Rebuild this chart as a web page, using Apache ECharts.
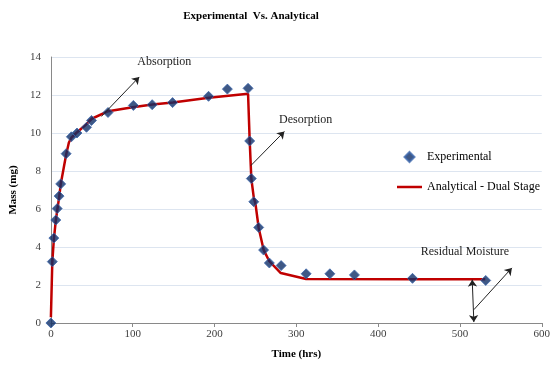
<!DOCTYPE html>
<html lang="en">
<head>
    <meta charset="UTF-8">
    <title>Experimental Vs. Analytical</title>
    <style type="text/css">
        *{ margin: 0; padding: 0; }
        #chart{ width: 553px; height: 365px; }
    </style>
</head>
<body>
<div id="chart"></div>
<script src="https://cdn.jsdelivr.net/npm/echarts@6/dist/echarts.min.js"></script>
<script>
    // experimental points (hrs, mg)
    var expTime = [0, 1.7, 3.6, 6, 7.7, 10, 12, 18.6, 25, 31.9, 43.5, 49.6, 69.8, 100.8, 123.8, 148.7, 192.7, 215.7, 241, 243, 245, 248, 254, 260, 267, 281.4, 312, 341, 371, 442, 531.5];
    var expMass = [0, 3.23, 4.47, 5.42, 6.02, 6.68, 7.32, 8.91, 9.8, 10.0, 10.3, 10.66, 11.08, 11.45, 11.49, 11.6, 11.93, 12.31, 12.35, 9.58, 7.6, 6.38, 5.03, 3.84, 3.16, 3.02, 2.59, 2.59, 2.53, 2.35, 2.24];

    // analytical dual stage curve
    var anaTime = [0, 1.7, 3.6, 6, 8, 10, 12, 18.6, 22, 25, 31, 43, 50, 70, 100, 124, 149, 193, 241, 243, 245, 248, 250, 254, 260, 267, 281, 312, 442, 531];
    var anaMass = [0.3, 3.2, 4.4, 5.4, 6.0, 6.6, 7.3, 8.85, 9.5, 9.75, 10.0, 10.45, 10.75, 11.15, 11.35, 11.5, 11.6, 11.85, 12.07, 9.6, 7.6, 6.6, 6.3, 5.0, 3.85, 3.25, 2.63, 2.32, 2.3, 2.3];

    // annotation arrows [from, to, double headed] in data units
    var arrows = [
        [[61.7, 10.87], [108, 12.95], false],
        [[244.3, 8.28], [285.4, 10.08], false],
        [[517, 0.7], [563.5, 2.9], false],
        [[515, 2.28], [517, 0.05], true]
    ];
    var notes = [
        ['Absorption', 138.7, 13.75],
        ['Desorption', 311.4, 10.7],
        ['Residual Moisture', 506, 3.75]
    ];

    var font = 'Liberation Serif';

    var expData = [];
    for (var i = 0; i < expTime.length; i++) {
        expData.push([expTime[i], expMass[i]]);
    }
    var anaData = [];
    for (var j = 0; j < anaTime.length; j++) {
        anaData.push([anaTime[j], anaMass[j]]);
    }

    var arrowLines = arrows.map(function (a) {
        return [
            { coord: a[0], symbol: a[2] ? 'arrow' : 'none' },
            { coord: a[1], symbol: 'arrow' }
        ];
    });
    var notePoints = notes.map(function (n) {
        return { name: n[0], coord: [n[1], n[2]], label: { formatter: n[0] } };
    });

    var myChart = echarts.init(document.getElementById('chart'));
    var option = {
        animation: false,
        backgroundColor: '#fff',
        title: {
            text: 'Experimental  Vs. Analytical',
            left: 246,
            top: 6,
            textAlign: 'center',
            textStyle: { fontFamily: font, fontSize: 11, fontWeight: 'bold', color: '#000' }
        },
        legend: {
            orient: 'vertical',
            left: 392,
            top: 146,
            itemGap: 18,
            itemWidth: 25,
            itemHeight: 10,
            textStyle: { fontFamily: font, fontSize: 12, color: '#000' },
            data: [
                { name: 'Experimental', icon: 'path://M0,-1L1,0L0,1L-1,0Z' },
                { name: 'Analytical - Dual Stage', icon: 'path://M0,0L25,0L25,2.5L0,2.5Z' }
            ]
        },
        grid: { left: 47, right: 9, top: 57, bottom: 42 },
        xAxis: {
            type: 'value',
            min: 0, max: 600, interval: 100,
            name: 'Time (hrs)',
            nameLocation: 'middle',
            nameGap: 26,
            nameTextStyle: { fontFamily: font, fontSize: 11, fontWeight: 'bold', color: '#000' },
            axisLine: { lineStyle: { color: '#898989' } },
            axisTick: { show: true, length: 4, lineStyle: { color: '#898989' } },
            axisLabel: { fontFamily: font, fontSize: 11, color: '#404040', margin: 6 },
            splitLine: { show: false }
        },
        yAxis: {
            type: 'value',
            min: 0, max: 14, interval: 2,
            name: 'Mass (mg)',
            nameLocation: 'middle',
            nameGap: 28,
            nameTextStyle: { fontFamily: font, fontSize: 11, fontWeight: 'bold', color: '#000' },
            axisLine: { show: true, lineStyle: { color: '#898989' } },
            axisTick: { show: false },
            axisLabel: { fontFamily: font, fontSize: 11, color: '#404040', margin: 10 },
            splitLine: { lineStyle: { color: '#dde5f0' } }
        },
        series: [
            {
                name: 'Analytical - Dual Stage',
                type: 'line',
                data: anaData,
                symbol: 'none',
                lineStyle: { color: '#c00000', width: 2.5 },
                itemStyle: { color: '#c00000' },
                z: 2,
                markLine: {
                    silent: true,
                    symbolSize: 7,
                    label: { show: false },
                    lineStyle: { color: '#222', width: 1, type: 'solid' },
                    data: arrowLines
                }
            },
            {
                name: 'Experimental',
                type: 'scatter',
                data: expData,
                symbol: 'diamond',
                symbolSize: 10,
                itemStyle: { color: '#0f2e66', borderColor: '#3d68ad', borderWidth: 1 },
                z: 3,
                markPoint: {
                    silent: true,
                    symbol: 'circle',
                    symbolSize: 0,
                    label: {
                        show: true,
                        position: 'inside',
                        fontFamily: font,
                        fontSize: 12,
                        color: '#222'
                    },
                    data: notePoints
                }
            }
        ]
    };
    myChart.setOption(option);
</script>
</body>
</html>
